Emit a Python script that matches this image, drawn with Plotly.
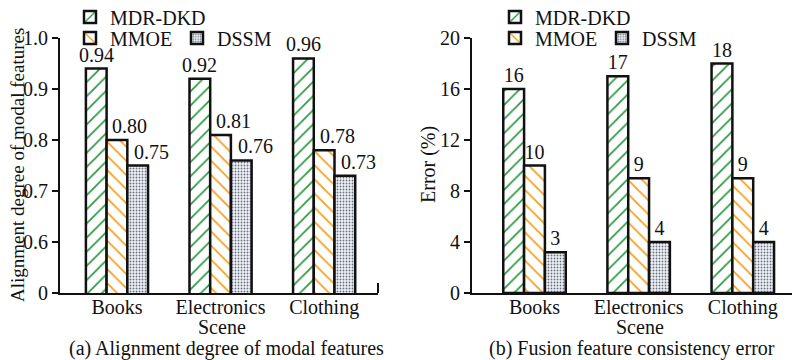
import plotly.graph_objects as go

categories = ["Books", "Electronics", "Clothing"]
series_names = ["MDR-DKD", "MMOE", "DSSM"]
align_vals = {"MDR-DKD": [0.94, 0.92, 0.96], "MMOE": [0.80, 0.81, 0.78], "DSSM": [0.75, 0.76, 0.73]}
align_text = {"MDR-DKD": ["0.94", "0.92", "0.96"], "MMOE": ["0.80", "0.81", "0.78"], "DSSM": ["0.75", "0.76", "0.73"]}
error_vals = {"MDR-DKD": [16, 17, 18], "MMOE": [10, 9, 9], "DSSM": [3.2, 4, 4]}
error_text = {"MDR-DKD": ["16", "17", "18"], "MMOE": ["10", "9", "9"], "DSSM": ["3", "4", "4"]}
left_ticks = [0.5, 0.6, 0.7, 0.8, 0.9, 1.0]
left_ticktext = ["0", "0.6", "0.7", "0.8", "0.9", "1.0"]
right_ticks = [0, 4, 8, 12, 16, 20]

FONT = "Liberation Serif"
FS = 20
INK = "#111"
styles = {
    "MDR-DKD": dict(shape="/", fgcolor="#2f9a44", bgcolor="white", size=10, solidity=0.18, fillmode="replace"),
    "MMOE": dict(shape="\\", fgcolor="#f5a01f", bgcolor="white", size=10, solidity=0.18, fillmode="replace"),
    "DSSM": dict(shape=".", fgcolor="#6a7080", bgcolor="#f0f4f8", size=3, solidity=0.3, fillmode="replace"),
}
legend_of_left = {"MDR-DKD": "legend", "MMOE": "legend2", "DSSM": "legend2"}
legend_of_right = {"MDR-DKD": "legend3", "MMOE": "legend4", "DSSM": "legend4"}
# label horizontal nudges (px) on the left panel, per series
left_label_shift = {"MDR-DKD": 0, "MMOE": 13, "DSSM": 14}
group_offset = {"MDR-DKD": -0.2, "MMOE": 0.0, "DSSM": 0.2}

# page has an 8px body margin: design in screen px, convert to figure px
OFF = 8
W, H = 800 - OFF, 360 - OFF
TOP, BOTTOM = 38 - OFF, 293 - OFF


def fx(sx):
    return (sx - OFF) / W


def fy_paper(sy):
    return (BOTTOM - (sy - OFF)) / (BOTTOM - TOP)


fig = go.Figure()
for name in series_names:
    fig.add_trace(go.Bar(
        x=list(range(len(categories))), y=align_vals[name], name=name,
        cliponaxis=False, showlegend=True,
        marker=dict(color="white", line=dict(color=INK, width=2.5), pattern=styles[name]),
        xaxis="x", yaxis="y", legend=legend_of_left[name],
    ))
    for i, v in enumerate(align_vals[name]):
        fig.add_annotation(x=i + group_offset[name], y=v, xref="x", yref="y", text=align_text[name][i],
                           showarrow=False, yanchor="bottom", xanchor="center", yshift=1,
                           xshift=left_label_shift[name], font=dict(family=FONT, size=FS, color=INK))
for name in series_names:
    fig.add_trace(go.Bar(
        x=list(range(len(categories))), y=error_vals[name], name=name, text=error_text[name],
        textposition="outside", cliponaxis=False, constraintext="none", showlegend=True,
        textfont=dict(family=FONT, size=FS, color=INK),
        marker=dict(color="white", line=dict(color=INK, width=2.5), pattern=styles[name]),
        xaxis="x2", yaxis="y2", legend=legend_of_right[name],
    ))

axis_common = dict(showline=True, linecolor=INK, linewidth=2, showgrid=False, zeroline=False,
                   tickfont=dict(family=FONT, size=FS, color=INK))
legfont = dict(family=FONT, size=FS, color=INK)


def leg(sx, sy, **kw):
    return dict(x=fx(sx), y=1 - (sy - OFF) / H, xanchor="left", yanchor="middle", xref="container",
                yref="container", orientation="h", font=legfont, bgcolor="rgba(0,0,0,0)", **kw)


xcat = dict(tickmode="array", tickvals=list(range(len(categories))), ticktext=categories, ticks="",
            ticklabelstandoff=-5)
fig.update_layout(
    width=W, height=H, margin=dict(l=0, r=0, t=TOP, b=H - BOTTOM, autoexpand=False),
    font=dict(family=FONT, size=FS, color=INK),
    showlegend=True,
    paper_bgcolor="white", plot_bgcolor="white",
    barmode="group", bargap=0.4, bargroupgap=0,
    xaxis=dict(domain=[fx(60), fx(378)], range=[-0.55, 2.52], **xcat, **axis_common),
    yaxis=dict(domain=[0, 1], range=[0.5, 1.0], tickvals=left_ticks, ticktext=left_ticktext,
               ticks="outside", ticklen=6, tickwidth=2, tickcolor=INK, anchor="x", **axis_common),
    xaxis2=dict(domain=[fx(472), fx(798)], range=[-0.6, 2.53], anchor="y2", **xcat, **axis_common),
    yaxis2=dict(domain=[0, 1], range=[0, 20], tickvals=right_ticks,
                ticks="outside", ticklen=6, tickwidth=2, tickcolor=INK, anchor="x2", **axis_common),
    legend=leg(70, 17),
    legend2=leg(70, 38, entrywidth=62, entrywidthmode="pixels"),
    legend3=leg(495, 17),
    legend4=leg(495, 38, entrywidth=62, entrywidthmode="pixels"),
)

annots = [
    ("Alignment degree of modal features", 17, 165, -90, 19),
    ("Error (%)", 428, 165, -90, FS),
    ("Scene", 222, 327, 0, FS),
    ("Scene", 640, 327, 0, FS),
    ("(a) Alignment degree of modal features", 227, 348, 0, FS),
    ("(b) Fusion feature consistency error", 632, 348, 0, FS),
]
for text, sx, sy, ang, fs in annots:
    fig.add_annotation(text=text, x=fx(sx), y=fy_paper(sy), xref="paper", yref="paper",
                       showarrow=False, xanchor="center", yanchor="middle", textangle=ang,
                       font=dict(family=FONT, size=fs, color=INK))

for xr, yr in (("x domain", "y domain"), ("x2 domain", "y2 domain")):
    fig.add_shape(type="line", xref=xr, yref=yr, x0=1, x1=1, y0=0, y1=10 / (BOTTOM - TOP),
                  line=dict(color=INK, width=2))

fig.write_html("out.html")
